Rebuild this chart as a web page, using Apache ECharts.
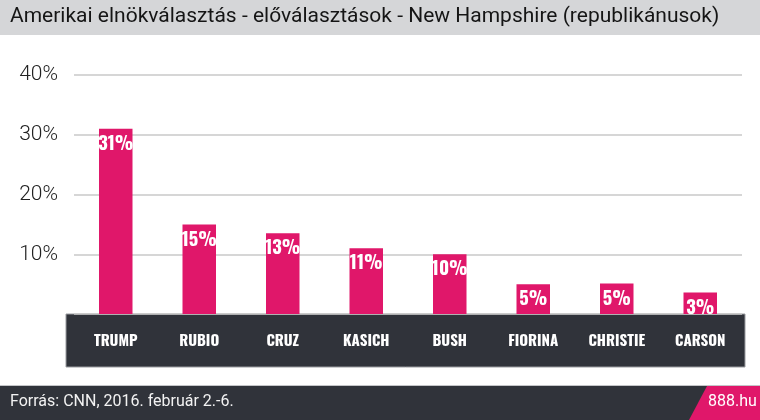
<!DOCTYPE html>
<html>
<head>
<meta charset="utf-8">
<script src="https://cdn.jsdelivr.net/npm/echarts@6/dist/echarts.min.js"></script>
<style>
html,body{margin:0;padding:0;background:#fff;}
#c{width:760px;height:420px;}
</style>
</head>
<body>
<div id="c"></div>
<script>
var titleText = 'Amerikai elnökválasztás - előválasztások - New Hampshire (republikánusok)';
var sourceText = 'Forrás: CNN, 2016. február 2.-6.';
var brandText = '888.hu';
var candidates = ['TRUMP', 'RUBIO', 'CRUZ', 'KASICH', 'BUSH', 'FIORINA', 'CHRISTIE', 'CARSON'];
var values = [31, 15, 13.5, 11, 10, 5, 5.1, 3.6];
var valueLabels = ['31%', '15%', '13%', '11%', '10%', '5%', '5%', '3%'];
var yTicks = [0, 10, 20, 30, 40];

var chart = echarts.init(document.getElementById('c'), null, {renderer: 'canvas'});
var condensed = 'Oswald, "Roboto Condensed", sans-serif';

chart.setOption({
  animation: false,
  backgroundColor: '#ffffff',
  graphic: [
    {type: 'rect', z: -10, shape: {x: 0, y: 0, width: 760, height: 35}, style: {fill: '#d5d6d8'}},
    {type: 'text', z: 10, left: 10, top: 6, style: {text: titleText, fill: '#151515', font: '400 21px Roboto, "Noto Sans", sans-serif'}},
    {type: 'rect', z: -10, shape: {x: 66, y: 314, width: 679, height: 53}, style: {fill: '#30333a', stroke: '#9a9ca0', lineWidth: 1}},
    {type: 'rect', z: 10, shape: {x: 0, y: 386, width: 760, height: 34}, style: {fill: '#30333a'}},
    {type: 'rect', z: 10, shape: {x: 0, y: 385, width: 760, height: 1}, style: {fill: '#c4c5c8'}},
    {type: 'polygon', z: 11, shape: {points: [[707, 386], [760, 386], [760, 420], [689, 420]]}, style: {fill: '#e0176a'}},
    {type: 'text', z: 12, left: 10, top: 394, style: {text: sourceText, fill: '#f2f2f2', font: '400 16px Roboto, "Noto Sans", sans-serif'}},
    {type: 'text', z: 12, left: 708, top: 394, style: {text: brandText, fill: '#ffffff', font: '400 16px Roboto, "Noto Sans", sans-serif'}}
  ],
  grid: {left: 74, right: 18, top: 75, bottom: 106},
  xAxis: {
    type: 'category',
    data: candidates,
    axisLine: {show: false},
    axisTick: {show: false},
    axisLabel: {
      interval: 0,
      color: '#ffffff',
      fontFamily: condensed,
      fontWeight: 'bold',
      fontSize: 15,
      margin: 20
    }
  },
  yAxis: {
    type: 'value',
    min: yTicks[0],
    max: yTicks[yTicks.length - 1],
    interval: 10,
    axisLine: {show: false},
    axisTick: {show: false},
    splitLine: {show: true, lineStyle: {color: '#c8c8c8', width: 1.5}},
    axisLabel: {
      color: '#222222',
      fontFamily: 'Roboto, "Noto Sans", sans-serif',
      fontWeight: 300,
      fontSize: 21,
      margin: 16,
      formatter: function (v) { return v === 0 ? '' : v + '%'; }
    }
  },
  series: [{
    type: 'bar',
    data: values,
    barWidth: 33.5,
    itemStyle: {color: '#e0176a'},
    label: {
      show: true,
      position: 'insideTop',
      distance: 6,
      color: '#ffffff',
      fontFamily: condensed,
      fontWeight: 'bold',
      fontSize: 18.5,
      formatter: function (p) { return valueLabels[p.dataIndex]; }
    }
  }]
});
</script>
</body>
</html>
